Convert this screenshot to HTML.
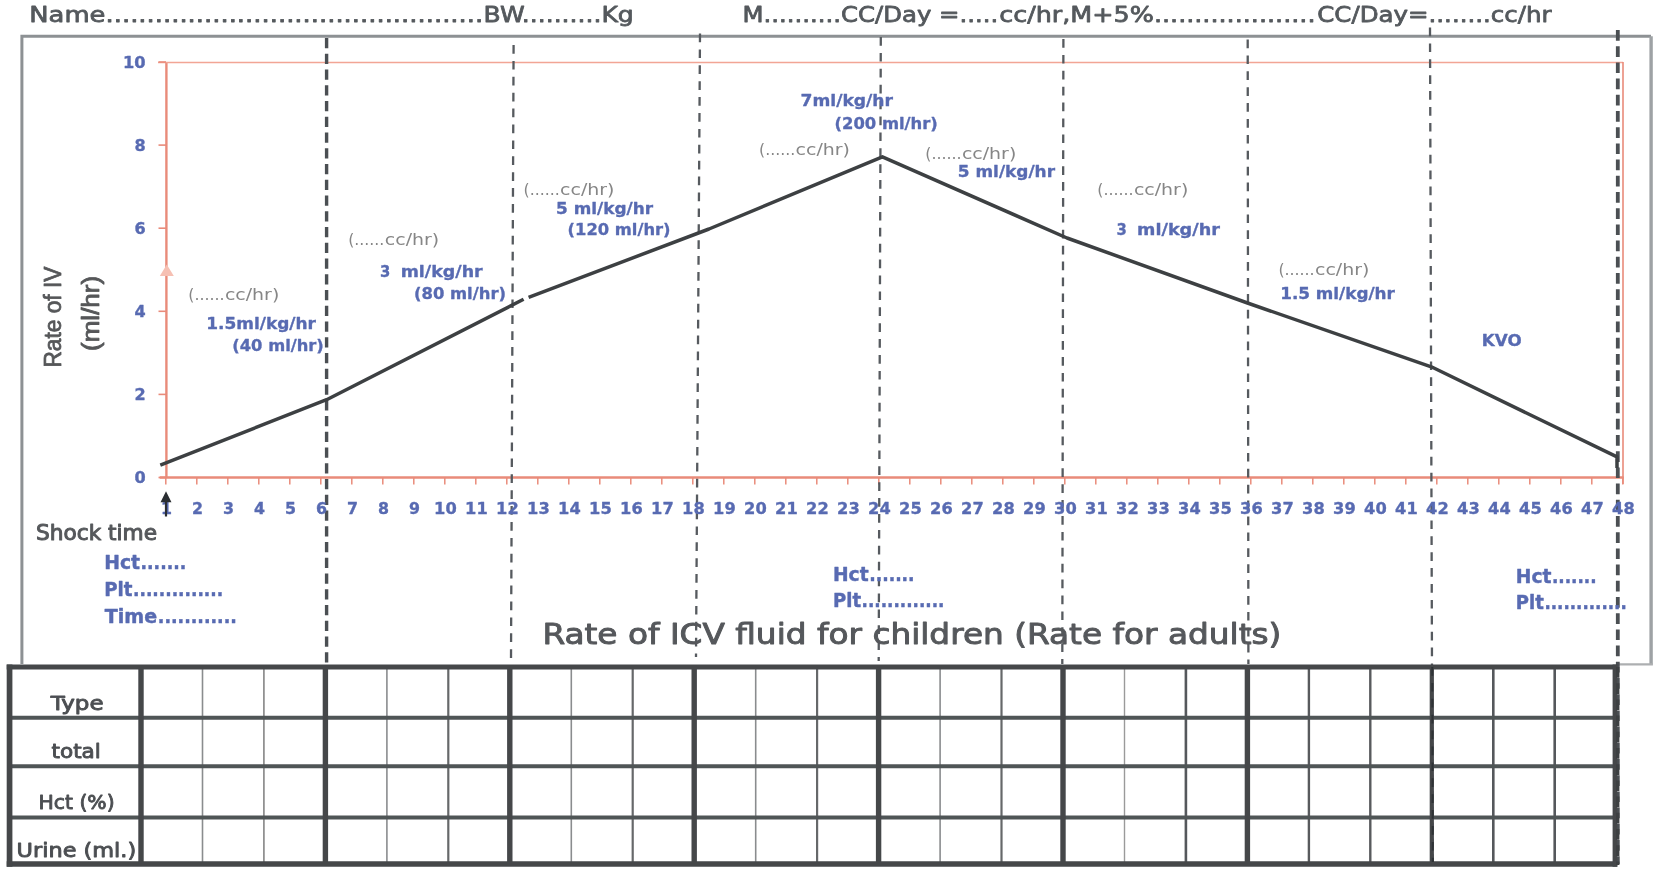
<!DOCTYPE html>
<html lang="en"><head><meta charset="utf-8"><title>Rate of ICV fluid</title>
<style>html,body{margin:0;padding:0;background:#fff;overflow:hidden}svg{display:block}</style></head><body>
<svg width="1656" height="870" viewBox="0 0 1656 870">
<rect width="1656" height="870" fill="#fff"/>
<defs><filter id="soft" x="0" y="0" width="100%" height="100%" filterUnits="objectBoundingBox"><feGaussianBlur stdDeviation="0.7"/></filter></defs>
<g filter="url(#soft)">
<rect width="1656" height="870" fill="#fff"/>
<path d="M21.9 664 V36.3 H1651" fill="none" stroke="#8d9194" stroke-width="3"/>
<path d="M1651.1 36.3 V664.5" fill="none" stroke="#9ea2a5" stroke-width="3.4"/>
<path d="M1652.9 664.4 H1618" fill="none" stroke="#adafb1" stroke-width="2.2"/>
<line x1="166.4" y1="62" x2="166.4" y2="478" stroke="#e98b7a" stroke-width="2.4"/>
<line x1="159.7" y1="477.6" x2="1623.6" y2="477.6" stroke="#e98b7a" stroke-width="2.5"/>
<line x1="158" y1="62.5" x2="1623" y2="62.5" stroke="#f2a595" stroke-width="1.5"/>
<line x1="1623" y1="62" x2="1623" y2="484" stroke="#e98b7a" stroke-width="1.6"/>
<line x1="158.5" y1="477.5" x2="166" y2="477.5" stroke="#e98b7a" stroke-width="1.6"/>
<line x1="158.5" y1="394.4" x2="166" y2="394.4" stroke="#e98b7a" stroke-width="1.6"/>
<line x1="158.5" y1="311.3" x2="166" y2="311.3" stroke="#e98b7a" stroke-width="1.6"/>
<line x1="158.5" y1="228.2" x2="166" y2="228.2" stroke="#e98b7a" stroke-width="1.6"/>
<line x1="158.5" y1="145.1" x2="166" y2="145.1" stroke="#e98b7a" stroke-width="1.6"/>
<line x1="158.5" y1="62.0" x2="166" y2="62.0" stroke="#e98b7a" stroke-width="1.6"/>
<line x1="165.8" y1="477" x2="165.8" y2="484.5" stroke="#e98b7a" stroke-width="1.5"/>
<line x1="196.8" y1="477" x2="196.8" y2="484.5" stroke="#e98b7a" stroke-width="1.5"/>
<line x1="227.8" y1="477" x2="227.8" y2="484.5" stroke="#e98b7a" stroke-width="1.5"/>
<line x1="258.8" y1="477" x2="258.8" y2="484.5" stroke="#e98b7a" stroke-width="1.5"/>
<line x1="289.8" y1="477" x2="289.8" y2="484.5" stroke="#e98b7a" stroke-width="1.5"/>
<line x1="320.8" y1="477" x2="320.8" y2="484.5" stroke="#e98b7a" stroke-width="1.5"/>
<line x1="351.8" y1="477" x2="351.8" y2="484.5" stroke="#e98b7a" stroke-width="1.5"/>
<line x1="382.8" y1="477" x2="382.8" y2="484.5" stroke="#e98b7a" stroke-width="1.5"/>
<line x1="413.8" y1="477" x2="413.8" y2="484.5" stroke="#e98b7a" stroke-width="1.5"/>
<line x1="444.8" y1="477" x2="444.8" y2="484.5" stroke="#e98b7a" stroke-width="1.5"/>
<line x1="475.8" y1="477" x2="475.8" y2="484.5" stroke="#e98b7a" stroke-width="1.5"/>
<line x1="506.8" y1="477" x2="506.8" y2="484.5" stroke="#e98b7a" stroke-width="1.5"/>
<line x1="537.8" y1="477" x2="537.8" y2="484.5" stroke="#e98b7a" stroke-width="1.5"/>
<line x1="568.8" y1="477" x2="568.8" y2="484.5" stroke="#e98b7a" stroke-width="1.5"/>
<line x1="599.8" y1="477" x2="599.8" y2="484.5" stroke="#e98b7a" stroke-width="1.5"/>
<line x1="630.8" y1="477" x2="630.8" y2="484.5" stroke="#e98b7a" stroke-width="1.5"/>
<line x1="661.8" y1="477" x2="661.8" y2="484.5" stroke="#e98b7a" stroke-width="1.5"/>
<line x1="692.8" y1="477" x2="692.8" y2="484.5" stroke="#e98b7a" stroke-width="1.5"/>
<line x1="723.8" y1="477" x2="723.8" y2="484.5" stroke="#e98b7a" stroke-width="1.5"/>
<line x1="754.8" y1="477" x2="754.8" y2="484.5" stroke="#e98b7a" stroke-width="1.5"/>
<line x1="785.8" y1="477" x2="785.8" y2="484.5" stroke="#e98b7a" stroke-width="1.5"/>
<line x1="816.8" y1="477" x2="816.8" y2="484.5" stroke="#e98b7a" stroke-width="1.5"/>
<line x1="847.8" y1="477" x2="847.8" y2="484.5" stroke="#e98b7a" stroke-width="1.5"/>
<line x1="878.8" y1="477" x2="878.8" y2="484.5" stroke="#e98b7a" stroke-width="1.5"/>
<line x1="909.8" y1="477" x2="909.8" y2="484.5" stroke="#e98b7a" stroke-width="1.5"/>
<line x1="940.8" y1="477" x2="940.8" y2="484.5" stroke="#e98b7a" stroke-width="1.5"/>
<line x1="971.8" y1="477" x2="971.8" y2="484.5" stroke="#e98b7a" stroke-width="1.5"/>
<line x1="1002.8" y1="477" x2="1002.8" y2="484.5" stroke="#e98b7a" stroke-width="1.5"/>
<line x1="1033.8" y1="477" x2="1033.8" y2="484.5" stroke="#e98b7a" stroke-width="1.5"/>
<line x1="1064.8" y1="477" x2="1064.8" y2="484.5" stroke="#e98b7a" stroke-width="1.5"/>
<line x1="1095.8" y1="477" x2="1095.8" y2="484.5" stroke="#e98b7a" stroke-width="1.5"/>
<line x1="1126.8" y1="477" x2="1126.8" y2="484.5" stroke="#e98b7a" stroke-width="1.5"/>
<line x1="1157.8" y1="477" x2="1157.8" y2="484.5" stroke="#e98b7a" stroke-width="1.5"/>
<line x1="1188.8" y1="477" x2="1188.8" y2="484.5" stroke="#e98b7a" stroke-width="1.5"/>
<line x1="1219.8" y1="477" x2="1219.8" y2="484.5" stroke="#e98b7a" stroke-width="1.5"/>
<line x1="1250.8" y1="477" x2="1250.8" y2="484.5" stroke="#e98b7a" stroke-width="1.5"/>
<line x1="1281.8" y1="477" x2="1281.8" y2="484.5" stroke="#e98b7a" stroke-width="1.5"/>
<line x1="1312.8" y1="477" x2="1312.8" y2="484.5" stroke="#e98b7a" stroke-width="1.5"/>
<line x1="1343.8" y1="477" x2="1343.8" y2="484.5" stroke="#e98b7a" stroke-width="1.5"/>
<line x1="1374.8" y1="477" x2="1374.8" y2="484.5" stroke="#e98b7a" stroke-width="1.5"/>
<line x1="1405.8" y1="477" x2="1405.8" y2="484.5" stroke="#e98b7a" stroke-width="1.5"/>
<line x1="1436.8" y1="477" x2="1436.8" y2="484.5" stroke="#e98b7a" stroke-width="1.5"/>
<line x1="1467.8" y1="477" x2="1467.8" y2="484.5" stroke="#e98b7a" stroke-width="1.5"/>
<line x1="1498.8" y1="477" x2="1498.8" y2="484.5" stroke="#e98b7a" stroke-width="1.5"/>
<line x1="1529.8" y1="477" x2="1529.8" y2="484.5" stroke="#e98b7a" stroke-width="1.5"/>
<line x1="1560.8" y1="477" x2="1560.8" y2="484.5" stroke="#e98b7a" stroke-width="1.5"/>
<line x1="1591.8" y1="477" x2="1591.8" y2="484.5" stroke="#e98b7a" stroke-width="1.5"/>
<line x1="1622.8" y1="477" x2="1622.8" y2="484.5" stroke="#e98b7a" stroke-width="1.5"/>
<path d="M166.8 264.5 L173.8 276 H159.8 Z" fill="#f6c0b3"/>
<line x1="326.6" y1="38" x2="326.6" y2="666" stroke="#4b4f53" stroke-width="3.4" stroke-dasharray="10.3 5.45"/>
<line x1="513.6" y1="45" x2="511" y2="661" stroke="#565a5e" stroke-width="2.3" stroke-dasharray="8.7 7.2"/>
<line x1="700" y1="33.5" x2="696" y2="657" stroke="#565a5e" stroke-width="2.3" stroke-dasharray="8.7 7.2"/>
<line x1="880.8" y1="37" x2="878.7" y2="661" stroke="#565a5e" stroke-width="2.3" stroke-dasharray="8.7 7.2"/>
<line x1="1063.4" y1="39" x2="1062.3" y2="664" stroke="#565a5e" stroke-width="2.3" stroke-dasharray="8.7 7.2"/>
<line x1="1247.7" y1="39.5" x2="1248.4" y2="664" stroke="#565a5e" stroke-width="2.3" stroke-dasharray="8.7 7.2"/>
<line x1="1430" y1="27.5" x2="1432.6" y2="862" stroke="#565a5e" stroke-width="2.3" stroke-dasharray="8.7 7.2"/>
<line x1="1617.8" y1="30" x2="1617.8" y2="864" stroke="#4b4f53" stroke-width="3.8" stroke-dasharray="10.7 5.5"/>
<polyline fill="none" stroke="#3c4043" stroke-width="3.5" stroke-linejoin="round" stroke-linecap="butt" points="160.3,465.2 326.6,399.7 523.6,299.3"/>
<polyline fill="none" stroke="#3c4043" stroke-width="3.5" stroke-linejoin="round" stroke-linecap="butt" points="528.6,297.4 709,229 882.4,156.8 1067,238 1247.5,303 1431.3,366.8 1617,456.9 1617,468"/>
<text x="29.3" y="22.3" font-family='"DejaVu Sans","Liberation Sans",sans-serif' font-size="22" font-weight="normal" fill="#54595d" text-anchor="start" xml:space="preserve" textLength="453.9" lengthAdjust="spacingAndGlyphs" stroke="#54595d" stroke-width="0.8" stroke-linejoin="round">Name..............................................</text>
<text x="483.6" y="22.3" font-family='"DejaVu Sans","Liberation Sans",sans-serif' font-size="22" font-weight="normal" fill="#54595d" text-anchor="start" xml:space="preserve" textLength="150.2" lengthAdjust="spacingAndGlyphs" stroke="#54595d" stroke-width="0.8" stroke-linejoin="round">BW..........Kg</text>
<text x="742.6" y="22.3" font-family='"DejaVu Sans","Liberation Sans",sans-serif' font-size="22" font-weight="normal" fill="#54595d" text-anchor="start" xml:space="preserve" textLength="255.6" lengthAdjust="spacingAndGlyphs" stroke="#54595d" stroke-width="0.8" stroke-linejoin="round">M..........CC/Day =.....</text>
<text x="999.2" y="22.3" font-family='"DejaVu Sans","Liberation Sans",sans-serif' font-size="22" font-weight="normal" fill="#54595d" text-anchor="start" xml:space="preserve" textLength="316.3" lengthAdjust="spacingAndGlyphs" stroke="#54595d" stroke-width="0.8" stroke-linejoin="round">cc/hr,M+5%....................</text>
<text x="1317.2" y="22.3" font-family='"DejaVu Sans","Liberation Sans",sans-serif' font-size="22" font-weight="normal" fill="#54595d" text-anchor="start" xml:space="preserve" textLength="234.4" lengthAdjust="spacingAndGlyphs" stroke="#54595d" stroke-width="0.8" stroke-linejoin="round">CC/Day=........cc/hr</text>
<text x="134.4" y="483.1" font-family='"DejaVu Sans","Liberation Sans",sans-serif' font-size="15.6" font-weight="bold" fill="#586bb2" text-anchor="start" xml:space="preserve" textLength="11.2" lengthAdjust="spacingAndGlyphs" stroke="#586bb2" stroke-width="0.35" stroke-linejoin="round">0</text>
<text x="134.4" y="400.0" font-family='"DejaVu Sans","Liberation Sans",sans-serif' font-size="15.6" font-weight="bold" fill="#586bb2" text-anchor="start" xml:space="preserve" textLength="11.2" lengthAdjust="spacingAndGlyphs" stroke="#586bb2" stroke-width="0.35" stroke-linejoin="round">2</text>
<text x="134.4" y="316.9" font-family='"DejaVu Sans","Liberation Sans",sans-serif' font-size="15.6" font-weight="bold" fill="#586bb2" text-anchor="start" xml:space="preserve" textLength="11.2" lengthAdjust="spacingAndGlyphs" stroke="#586bb2" stroke-width="0.35" stroke-linejoin="round">4</text>
<text x="134.4" y="233.8" font-family='"DejaVu Sans","Liberation Sans",sans-serif' font-size="15.6" font-weight="bold" fill="#586bb2" text-anchor="start" xml:space="preserve" textLength="11.2" lengthAdjust="spacingAndGlyphs" stroke="#586bb2" stroke-width="0.35" stroke-linejoin="round">6</text>
<text x="134.4" y="150.7" font-family='"DejaVu Sans","Liberation Sans",sans-serif' font-size="15.6" font-weight="bold" fill="#586bb2" text-anchor="start" xml:space="preserve" textLength="11.2" lengthAdjust="spacingAndGlyphs" stroke="#586bb2" stroke-width="0.35" stroke-linejoin="round">8</text>
<text x="123.0" y="67.6" font-family='"DejaVu Sans","Liberation Sans",sans-serif' font-size="15.6" font-weight="bold" fill="#586bb2" text-anchor="start" xml:space="preserve" textLength="22.6" lengthAdjust="spacingAndGlyphs" stroke="#586bb2" stroke-width="0.35" stroke-linejoin="round">10</text>
<text x="160.9" y="514.3" font-family='"DejaVu Sans","Liberation Sans",sans-serif' font-size="16.2" font-weight="bold" fill="#586bb2" text-anchor="start" xml:space="preserve" textLength="11.0" lengthAdjust="spacingAndGlyphs" stroke="#586bb2" stroke-width="0.35" stroke-linejoin="round">1</text>
<text x="191.9" y="514.3" font-family='"DejaVu Sans","Liberation Sans",sans-serif' font-size="16.2" font-weight="bold" fill="#586bb2" text-anchor="start" xml:space="preserve" textLength="11.0" lengthAdjust="spacingAndGlyphs" stroke="#586bb2" stroke-width="0.35" stroke-linejoin="round">2</text>
<text x="222.9" y="514.3" font-family='"DejaVu Sans","Liberation Sans",sans-serif' font-size="16.2" font-weight="bold" fill="#586bb2" text-anchor="start" xml:space="preserve" textLength="11.0" lengthAdjust="spacingAndGlyphs" stroke="#586bb2" stroke-width="0.35" stroke-linejoin="round">3</text>
<text x="253.9" y="514.3" font-family='"DejaVu Sans","Liberation Sans",sans-serif' font-size="16.2" font-weight="bold" fill="#586bb2" text-anchor="start" xml:space="preserve" textLength="11.0" lengthAdjust="spacingAndGlyphs" stroke="#586bb2" stroke-width="0.35" stroke-linejoin="round">4</text>
<text x="284.9" y="514.3" font-family='"DejaVu Sans","Liberation Sans",sans-serif' font-size="16.2" font-weight="bold" fill="#586bb2" text-anchor="start" xml:space="preserve" textLength="11.0" lengthAdjust="spacingAndGlyphs" stroke="#586bb2" stroke-width="0.35" stroke-linejoin="round">5</text>
<text x="315.9" y="514.3" font-family='"DejaVu Sans","Liberation Sans",sans-serif' font-size="16.2" font-weight="bold" fill="#586bb2" text-anchor="start" xml:space="preserve" textLength="11.0" lengthAdjust="spacingAndGlyphs" stroke="#586bb2" stroke-width="0.35" stroke-linejoin="round">6</text>
<text x="346.9" y="514.3" font-family='"DejaVu Sans","Liberation Sans",sans-serif' font-size="16.2" font-weight="bold" fill="#586bb2" text-anchor="start" xml:space="preserve" textLength="11.0" lengthAdjust="spacingAndGlyphs" stroke="#586bb2" stroke-width="0.35" stroke-linejoin="round">7</text>
<text x="377.9" y="514.3" font-family='"DejaVu Sans","Liberation Sans",sans-serif' font-size="16.2" font-weight="bold" fill="#586bb2" text-anchor="start" xml:space="preserve" textLength="11.0" lengthAdjust="spacingAndGlyphs" stroke="#586bb2" stroke-width="0.35" stroke-linejoin="round">8</text>
<text x="408.9" y="514.3" font-family='"DejaVu Sans","Liberation Sans",sans-serif' font-size="16.2" font-weight="bold" fill="#586bb2" text-anchor="start" xml:space="preserve" textLength="11.0" lengthAdjust="spacingAndGlyphs" stroke="#586bb2" stroke-width="0.35" stroke-linejoin="round">9</text>
<text x="434.1" y="514.3" font-family='"DejaVu Sans","Liberation Sans",sans-serif' font-size="16.2" font-weight="bold" fill="#586bb2" text-anchor="start" xml:space="preserve" textLength="22.6" lengthAdjust="spacingAndGlyphs" stroke="#586bb2" stroke-width="0.35" stroke-linejoin="round">10</text>
<text x="465.1" y="514.3" font-family='"DejaVu Sans","Liberation Sans",sans-serif' font-size="16.2" font-weight="bold" fill="#586bb2" text-anchor="start" xml:space="preserve" textLength="22.6" lengthAdjust="spacingAndGlyphs" stroke="#586bb2" stroke-width="0.35" stroke-linejoin="round">11</text>
<text x="496.1" y="514.3" font-family='"DejaVu Sans","Liberation Sans",sans-serif' font-size="16.2" font-weight="bold" fill="#586bb2" text-anchor="start" xml:space="preserve" textLength="22.6" lengthAdjust="spacingAndGlyphs" stroke="#586bb2" stroke-width="0.35" stroke-linejoin="round">12</text>
<text x="527.1" y="514.3" font-family='"DejaVu Sans","Liberation Sans",sans-serif' font-size="16.2" font-weight="bold" fill="#586bb2" text-anchor="start" xml:space="preserve" textLength="22.6" lengthAdjust="spacingAndGlyphs" stroke="#586bb2" stroke-width="0.35" stroke-linejoin="round">13</text>
<text x="558.1" y="514.3" font-family='"DejaVu Sans","Liberation Sans",sans-serif' font-size="16.2" font-weight="bold" fill="#586bb2" text-anchor="start" xml:space="preserve" textLength="22.6" lengthAdjust="spacingAndGlyphs" stroke="#586bb2" stroke-width="0.35" stroke-linejoin="round">14</text>
<text x="589.1" y="514.3" font-family='"DejaVu Sans","Liberation Sans",sans-serif' font-size="16.2" font-weight="bold" fill="#586bb2" text-anchor="start" xml:space="preserve" textLength="22.6" lengthAdjust="spacingAndGlyphs" stroke="#586bb2" stroke-width="0.35" stroke-linejoin="round">15</text>
<text x="620.1" y="514.3" font-family='"DejaVu Sans","Liberation Sans",sans-serif' font-size="16.2" font-weight="bold" fill="#586bb2" text-anchor="start" xml:space="preserve" textLength="22.6" lengthAdjust="spacingAndGlyphs" stroke="#586bb2" stroke-width="0.35" stroke-linejoin="round">16</text>
<text x="651.1" y="514.3" font-family='"DejaVu Sans","Liberation Sans",sans-serif' font-size="16.2" font-weight="bold" fill="#586bb2" text-anchor="start" xml:space="preserve" textLength="22.6" lengthAdjust="spacingAndGlyphs" stroke="#586bb2" stroke-width="0.35" stroke-linejoin="round">17</text>
<text x="682.1" y="514.3" font-family='"DejaVu Sans","Liberation Sans",sans-serif' font-size="16.2" font-weight="bold" fill="#586bb2" text-anchor="start" xml:space="preserve" textLength="22.6" lengthAdjust="spacingAndGlyphs" stroke="#586bb2" stroke-width="0.35" stroke-linejoin="round">18</text>
<text x="713.1" y="514.3" font-family='"DejaVu Sans","Liberation Sans",sans-serif' font-size="16.2" font-weight="bold" fill="#586bb2" text-anchor="start" xml:space="preserve" textLength="22.6" lengthAdjust="spacingAndGlyphs" stroke="#586bb2" stroke-width="0.35" stroke-linejoin="round">19</text>
<text x="744.1" y="514.3" font-family='"DejaVu Sans","Liberation Sans",sans-serif' font-size="16.2" font-weight="bold" fill="#586bb2" text-anchor="start" xml:space="preserve" textLength="22.6" lengthAdjust="spacingAndGlyphs" stroke="#586bb2" stroke-width="0.35" stroke-linejoin="round">20</text>
<text x="775.1" y="514.3" font-family='"DejaVu Sans","Liberation Sans",sans-serif' font-size="16.2" font-weight="bold" fill="#586bb2" text-anchor="start" xml:space="preserve" textLength="22.6" lengthAdjust="spacingAndGlyphs" stroke="#586bb2" stroke-width="0.35" stroke-linejoin="round">21</text>
<text x="806.1" y="514.3" font-family='"DejaVu Sans","Liberation Sans",sans-serif' font-size="16.2" font-weight="bold" fill="#586bb2" text-anchor="start" xml:space="preserve" textLength="22.6" lengthAdjust="spacingAndGlyphs" stroke="#586bb2" stroke-width="0.35" stroke-linejoin="round">22</text>
<text x="837.1" y="514.3" font-family='"DejaVu Sans","Liberation Sans",sans-serif' font-size="16.2" font-weight="bold" fill="#586bb2" text-anchor="start" xml:space="preserve" textLength="22.6" lengthAdjust="spacingAndGlyphs" stroke="#586bb2" stroke-width="0.35" stroke-linejoin="round">23</text>
<text x="868.1" y="514.3" font-family='"DejaVu Sans","Liberation Sans",sans-serif' font-size="16.2" font-weight="bold" fill="#586bb2" text-anchor="start" xml:space="preserve" textLength="22.6" lengthAdjust="spacingAndGlyphs" stroke="#586bb2" stroke-width="0.35" stroke-linejoin="round">24</text>
<text x="899.1" y="514.3" font-family='"DejaVu Sans","Liberation Sans",sans-serif' font-size="16.2" font-weight="bold" fill="#586bb2" text-anchor="start" xml:space="preserve" textLength="22.6" lengthAdjust="spacingAndGlyphs" stroke="#586bb2" stroke-width="0.35" stroke-linejoin="round">25</text>
<text x="930.1" y="514.3" font-family='"DejaVu Sans","Liberation Sans",sans-serif' font-size="16.2" font-weight="bold" fill="#586bb2" text-anchor="start" xml:space="preserve" textLength="22.6" lengthAdjust="spacingAndGlyphs" stroke="#586bb2" stroke-width="0.35" stroke-linejoin="round">26</text>
<text x="961.1" y="514.3" font-family='"DejaVu Sans","Liberation Sans",sans-serif' font-size="16.2" font-weight="bold" fill="#586bb2" text-anchor="start" xml:space="preserve" textLength="22.6" lengthAdjust="spacingAndGlyphs" stroke="#586bb2" stroke-width="0.35" stroke-linejoin="round">27</text>
<text x="992.1" y="514.3" font-family='"DejaVu Sans","Liberation Sans",sans-serif' font-size="16.2" font-weight="bold" fill="#586bb2" text-anchor="start" xml:space="preserve" textLength="22.6" lengthAdjust="spacingAndGlyphs" stroke="#586bb2" stroke-width="0.35" stroke-linejoin="round">28</text>
<text x="1023.1" y="514.3" font-family='"DejaVu Sans","Liberation Sans",sans-serif' font-size="16.2" font-weight="bold" fill="#586bb2" text-anchor="start" xml:space="preserve" textLength="22.6" lengthAdjust="spacingAndGlyphs" stroke="#586bb2" stroke-width="0.35" stroke-linejoin="round">29</text>
<text x="1054.1" y="514.3" font-family='"DejaVu Sans","Liberation Sans",sans-serif' font-size="16.2" font-weight="bold" fill="#586bb2" text-anchor="start" xml:space="preserve" textLength="22.6" lengthAdjust="spacingAndGlyphs" stroke="#586bb2" stroke-width="0.35" stroke-linejoin="round">30</text>
<text x="1085.1" y="514.3" font-family='"DejaVu Sans","Liberation Sans",sans-serif' font-size="16.2" font-weight="bold" fill="#586bb2" text-anchor="start" xml:space="preserve" textLength="22.6" lengthAdjust="spacingAndGlyphs" stroke="#586bb2" stroke-width="0.35" stroke-linejoin="round">31</text>
<text x="1116.1" y="514.3" font-family='"DejaVu Sans","Liberation Sans",sans-serif' font-size="16.2" font-weight="bold" fill="#586bb2" text-anchor="start" xml:space="preserve" textLength="22.6" lengthAdjust="spacingAndGlyphs" stroke="#586bb2" stroke-width="0.35" stroke-linejoin="round">32</text>
<text x="1147.1" y="514.3" font-family='"DejaVu Sans","Liberation Sans",sans-serif' font-size="16.2" font-weight="bold" fill="#586bb2" text-anchor="start" xml:space="preserve" textLength="22.6" lengthAdjust="spacingAndGlyphs" stroke="#586bb2" stroke-width="0.35" stroke-linejoin="round">33</text>
<text x="1178.1" y="514.3" font-family='"DejaVu Sans","Liberation Sans",sans-serif' font-size="16.2" font-weight="bold" fill="#586bb2" text-anchor="start" xml:space="preserve" textLength="22.6" lengthAdjust="spacingAndGlyphs" stroke="#586bb2" stroke-width="0.35" stroke-linejoin="round">34</text>
<text x="1209.1" y="514.3" font-family='"DejaVu Sans","Liberation Sans",sans-serif' font-size="16.2" font-weight="bold" fill="#586bb2" text-anchor="start" xml:space="preserve" textLength="22.6" lengthAdjust="spacingAndGlyphs" stroke="#586bb2" stroke-width="0.35" stroke-linejoin="round">35</text>
<text x="1240.1" y="514.3" font-family='"DejaVu Sans","Liberation Sans",sans-serif' font-size="16.2" font-weight="bold" fill="#586bb2" text-anchor="start" xml:space="preserve" textLength="22.6" lengthAdjust="spacingAndGlyphs" stroke="#586bb2" stroke-width="0.35" stroke-linejoin="round">36</text>
<text x="1271.1" y="514.3" font-family='"DejaVu Sans","Liberation Sans",sans-serif' font-size="16.2" font-weight="bold" fill="#586bb2" text-anchor="start" xml:space="preserve" textLength="22.6" lengthAdjust="spacingAndGlyphs" stroke="#586bb2" stroke-width="0.35" stroke-linejoin="round">37</text>
<text x="1302.1" y="514.3" font-family='"DejaVu Sans","Liberation Sans",sans-serif' font-size="16.2" font-weight="bold" fill="#586bb2" text-anchor="start" xml:space="preserve" textLength="22.6" lengthAdjust="spacingAndGlyphs" stroke="#586bb2" stroke-width="0.35" stroke-linejoin="round">38</text>
<text x="1333.1" y="514.3" font-family='"DejaVu Sans","Liberation Sans",sans-serif' font-size="16.2" font-weight="bold" fill="#586bb2" text-anchor="start" xml:space="preserve" textLength="22.6" lengthAdjust="spacingAndGlyphs" stroke="#586bb2" stroke-width="0.35" stroke-linejoin="round">39</text>
<text x="1364.1" y="514.3" font-family='"DejaVu Sans","Liberation Sans",sans-serif' font-size="16.2" font-weight="bold" fill="#586bb2" text-anchor="start" xml:space="preserve" textLength="22.6" lengthAdjust="spacingAndGlyphs" stroke="#586bb2" stroke-width="0.35" stroke-linejoin="round">40</text>
<text x="1395.1" y="514.3" font-family='"DejaVu Sans","Liberation Sans",sans-serif' font-size="16.2" font-weight="bold" fill="#586bb2" text-anchor="start" xml:space="preserve" textLength="22.6" lengthAdjust="spacingAndGlyphs" stroke="#586bb2" stroke-width="0.35" stroke-linejoin="round">41</text>
<text x="1426.1" y="514.3" font-family='"DejaVu Sans","Liberation Sans",sans-serif' font-size="16.2" font-weight="bold" fill="#586bb2" text-anchor="start" xml:space="preserve" textLength="22.6" lengthAdjust="spacingAndGlyphs" stroke="#586bb2" stroke-width="0.35" stroke-linejoin="round">42</text>
<text x="1457.1" y="514.3" font-family='"DejaVu Sans","Liberation Sans",sans-serif' font-size="16.2" font-weight="bold" fill="#586bb2" text-anchor="start" xml:space="preserve" textLength="22.6" lengthAdjust="spacingAndGlyphs" stroke="#586bb2" stroke-width="0.35" stroke-linejoin="round">43</text>
<text x="1488.1" y="514.3" font-family='"DejaVu Sans","Liberation Sans",sans-serif' font-size="16.2" font-weight="bold" fill="#586bb2" text-anchor="start" xml:space="preserve" textLength="22.6" lengthAdjust="spacingAndGlyphs" stroke="#586bb2" stroke-width="0.35" stroke-linejoin="round">44</text>
<text x="1519.1" y="514.3" font-family='"DejaVu Sans","Liberation Sans",sans-serif' font-size="16.2" font-weight="bold" fill="#586bb2" text-anchor="start" xml:space="preserve" textLength="22.6" lengthAdjust="spacingAndGlyphs" stroke="#586bb2" stroke-width="0.35" stroke-linejoin="round">45</text>
<text x="1550.1" y="514.3" font-family='"DejaVu Sans","Liberation Sans",sans-serif' font-size="16.2" font-weight="bold" fill="#586bb2" text-anchor="start" xml:space="preserve" textLength="22.6" lengthAdjust="spacingAndGlyphs" stroke="#586bb2" stroke-width="0.35" stroke-linejoin="round">46</text>
<text x="1581.1" y="514.3" font-family='"DejaVu Sans","Liberation Sans",sans-serif' font-size="16.2" font-weight="bold" fill="#586bb2" text-anchor="start" xml:space="preserve" textLength="22.6" lengthAdjust="spacingAndGlyphs" stroke="#586bb2" stroke-width="0.35" stroke-linejoin="round">47</text>
<text x="1612.1" y="514.3" font-family='"DejaVu Sans","Liberation Sans",sans-serif' font-size="16.2" font-weight="bold" fill="#586bb2" text-anchor="start" xml:space="preserve" textLength="22.6" lengthAdjust="spacingAndGlyphs" stroke="#586bb2" stroke-width="0.35" stroke-linejoin="round">48</text>
<g transform="translate(61.0 367.6) rotate(-90)">
<text x="0" y="0" font-family='"Liberation Sans","DejaVu Sans",sans-serif' font-size="24.6" font-weight="normal" fill="#555759" text-anchor="start" xml:space="preserve" textLength="101" lengthAdjust="spacingAndGlyphs" stroke="#555759" stroke-width="0.8" stroke-linejoin="round">Rate of IV</text>
</g>
<g transform="translate(99.0 351) rotate(-90)">
<text x="0" y="0" font-family='"Liberation Sans","DejaVu Sans",sans-serif' font-size="24.6" font-weight="normal" fill="#555759" text-anchor="start" xml:space="preserve" textLength="75.2" lengthAdjust="spacingAndGlyphs" stroke="#555759" stroke-width="0.8" stroke-linejoin="round">(ml/hr)</text>
</g>
<text x="188.3" y="300" font-family='"DejaVu Sans","Liberation Sans",sans-serif' font-size="16.2" font-weight="normal" fill="#868686" text-anchor="start" xml:space="preserve" textLength="36.2" lengthAdjust="spacingAndGlyphs">(......</text>
<text x="224.9" y="300" font-family='"DejaVu Sans","Liberation Sans",sans-serif' font-size="16.2" font-weight="normal" fill="#868686" text-anchor="start" xml:space="preserve" textLength="54.4" lengthAdjust="spacingAndGlyphs">cc/hr)</text>
<text x="348.2" y="245" font-family='"DejaVu Sans","Liberation Sans",sans-serif' font-size="16.2" font-weight="normal" fill="#868686" text-anchor="start" xml:space="preserve" textLength="36.2" lengthAdjust="spacingAndGlyphs">(......</text>
<text x="384.8" y="245" font-family='"DejaVu Sans","Liberation Sans",sans-serif' font-size="16.2" font-weight="normal" fill="#868686" text-anchor="start" xml:space="preserve" textLength="54.4" lengthAdjust="spacingAndGlyphs">cc/hr)</text>
<text x="523.5" y="194.8" font-family='"DejaVu Sans","Liberation Sans",sans-serif' font-size="16.2" font-weight="normal" fill="#868686" text-anchor="start" xml:space="preserve" textLength="36.2" lengthAdjust="spacingAndGlyphs">(......</text>
<text x="560.1" y="194.8" font-family='"DejaVu Sans","Liberation Sans",sans-serif' font-size="16.2" font-weight="normal" fill="#868686" text-anchor="start" xml:space="preserve" textLength="54.4" lengthAdjust="spacingAndGlyphs">cc/hr)</text>
<text x="759.0" y="155.3" font-family='"DejaVu Sans","Liberation Sans",sans-serif' font-size="16.2" font-weight="normal" fill="#868686" text-anchor="start" xml:space="preserve" textLength="36.2" lengthAdjust="spacingAndGlyphs">(......</text>
<text x="795.6" y="155.3" font-family='"DejaVu Sans","Liberation Sans",sans-serif' font-size="16.2" font-weight="normal" fill="#868686" text-anchor="start" xml:space="preserve" textLength="54.4" lengthAdjust="spacingAndGlyphs">cc/hr)</text>
<text x="925.3" y="158.8" font-family='"DejaVu Sans","Liberation Sans",sans-serif' font-size="16.2" font-weight="normal" fill="#868686" text-anchor="start" xml:space="preserve" textLength="36.2" lengthAdjust="spacingAndGlyphs">(......</text>
<text x="961.9" y="158.8" font-family='"DejaVu Sans","Liberation Sans",sans-serif' font-size="16.2" font-weight="normal" fill="#868686" text-anchor="start" xml:space="preserve" textLength="54.4" lengthAdjust="spacingAndGlyphs">cc/hr)</text>
<text x="1097.3" y="195.2" font-family='"DejaVu Sans","Liberation Sans",sans-serif' font-size="16.2" font-weight="normal" fill="#868686" text-anchor="start" xml:space="preserve" textLength="36.2" lengthAdjust="spacingAndGlyphs">(......</text>
<text x="1133.9" y="195.2" font-family='"DejaVu Sans","Liberation Sans",sans-serif' font-size="16.2" font-weight="normal" fill="#868686" text-anchor="start" xml:space="preserve" textLength="54.4" lengthAdjust="spacingAndGlyphs">cc/hr)</text>
<text x="1278.4" y="274.8" font-family='"DejaVu Sans","Liberation Sans",sans-serif' font-size="16.2" font-weight="normal" fill="#868686" text-anchor="start" xml:space="preserve" textLength="36.2" lengthAdjust="spacingAndGlyphs">(......</text>
<text x="1315.0" y="274.8" font-family='"DejaVu Sans","Liberation Sans",sans-serif' font-size="16.2" font-weight="normal" fill="#868686" text-anchor="start" xml:space="preserve" textLength="54.4" lengthAdjust="spacingAndGlyphs">cc/hr)</text>
<text x="206.2" y="329" font-family='"DejaVu Sans","Liberation Sans",sans-serif' font-size="16.5" font-weight="bold" fill="#586bb2" text-anchor="start" xml:space="preserve" textLength="109.8" lengthAdjust="spacingAndGlyphs" stroke="#586bb2" stroke-width="0.35" stroke-linejoin="round">1.5ml/kg/hr</text>
<text x="232.3" y="350.8" font-family='"DejaVu Sans","Liberation Sans",sans-serif' font-size="16.5" font-weight="bold" fill="#586bb2" text-anchor="start" xml:space="preserve" textLength="91.5" lengthAdjust="spacingAndGlyphs" stroke="#586bb2" stroke-width="0.35" stroke-linejoin="round">(40 ml/hr)</text>
<text x="380" y="277" font-family='"DejaVu Sans","Liberation Sans",sans-serif' font-size="16.5" font-weight="bold" fill="#586bb2" text-anchor="start" xml:space="preserve" textLength="10.3" lengthAdjust="spacingAndGlyphs" stroke="#586bb2" stroke-width="0.35" stroke-linejoin="round">3</text>
<text x="400.7" y="277" font-family='"DejaVu Sans","Liberation Sans",sans-serif' font-size="16.5" font-weight="bold" fill="#586bb2" text-anchor="start" xml:space="preserve" textLength="82" lengthAdjust="spacingAndGlyphs" stroke="#586bb2" stroke-width="0.35" stroke-linejoin="round">ml/kg/hr</text>
<text x="414" y="299" font-family='"DejaVu Sans","Liberation Sans",sans-serif' font-size="16.5" font-weight="bold" fill="#586bb2" text-anchor="start" xml:space="preserve" textLength="92" lengthAdjust="spacingAndGlyphs" stroke="#586bb2" stroke-width="0.35" stroke-linejoin="round">(80 ml/hr)</text>
<text x="556" y="214" font-family='"DejaVu Sans","Liberation Sans",sans-serif' font-size="16.5" font-weight="bold" fill="#586bb2" text-anchor="start" xml:space="preserve" textLength="97" lengthAdjust="spacingAndGlyphs" stroke="#586bb2" stroke-width="0.35" stroke-linejoin="round">5 ml/kg/hr</text>
<text x="567.6" y="235" font-family='"DejaVu Sans","Liberation Sans",sans-serif' font-size="16.5" font-weight="bold" fill="#586bb2" text-anchor="start" xml:space="preserve" textLength="103" lengthAdjust="spacingAndGlyphs" stroke="#586bb2" stroke-width="0.35" stroke-linejoin="round">(120 ml/hr)</text>
<text x="800.5" y="105.5" font-family='"DejaVu Sans","Liberation Sans",sans-serif' font-size="16.5" font-weight="bold" fill="#586bb2" text-anchor="start" xml:space="preserve" textLength="92.5" lengthAdjust="spacingAndGlyphs" stroke="#586bb2" stroke-width="0.35" stroke-linejoin="round">7ml/kg/hr</text>
<text x="834.5" y="129" font-family='"DejaVu Sans","Liberation Sans",sans-serif' font-size="16.5" font-weight="bold" fill="#586bb2" text-anchor="start" xml:space="preserve" textLength="103.3" lengthAdjust="spacingAndGlyphs" stroke="#586bb2" stroke-width="0.35" stroke-linejoin="round">(200 ml/hr)</text>
<text x="957.8" y="177.3" font-family='"DejaVu Sans","Liberation Sans",sans-serif' font-size="16.5" font-weight="bold" fill="#586bb2" text-anchor="start" xml:space="preserve" textLength="97.2" lengthAdjust="spacingAndGlyphs" stroke="#586bb2" stroke-width="0.35" stroke-linejoin="round">5 ml/kg/hr</text>
<text x="1116.4" y="235.4" font-family='"DejaVu Sans","Liberation Sans",sans-serif' font-size="16.5" font-weight="bold" fill="#586bb2" text-anchor="start" xml:space="preserve" textLength="10.3" lengthAdjust="spacingAndGlyphs" stroke="#586bb2" stroke-width="0.35" stroke-linejoin="round">3</text>
<text x="1137.1" y="235.4" font-family='"DejaVu Sans","Liberation Sans",sans-serif' font-size="16.5" font-weight="bold" fill="#586bb2" text-anchor="start" xml:space="preserve" textLength="82.8" lengthAdjust="spacingAndGlyphs" stroke="#586bb2" stroke-width="0.35" stroke-linejoin="round">ml/kg/hr</text>
<text x="1280.2" y="299" font-family='"DejaVu Sans","Liberation Sans",sans-serif' font-size="16.5" font-weight="bold" fill="#586bb2" text-anchor="start" xml:space="preserve" textLength="114.7" lengthAdjust="spacingAndGlyphs" stroke="#586bb2" stroke-width="0.35" stroke-linejoin="round">1.5 ml/kg/hr</text>
<text x="1481.8" y="346" font-family='"DejaVu Sans","Liberation Sans",sans-serif' font-size="16" font-weight="bold" fill="#586bb2" text-anchor="start" xml:space="preserve" textLength="39.8" lengthAdjust="spacingAndGlyphs" stroke="#586bb2" stroke-width="0.35" stroke-linejoin="round">KVO</text>
<text x="104.2" y="569" font-family='"DejaVu Sans","Liberation Sans",sans-serif' font-size="20" font-weight="bold" fill="#586bb2" text-anchor="start" xml:space="preserve" textLength="35.8" lengthAdjust="spacingAndGlyphs" stroke="#586bb2" stroke-width="0.45" stroke-linejoin="round">Hct</text>
<text x="140.6" y="569" font-family='"DejaVu Sans","Liberation Sans",sans-serif' font-size="20" font-weight="bold" fill="#586bb2" text-anchor="start" xml:space="preserve" textLength="45.6" lengthAdjust="spacingAndGlyphs" stroke="#586bb2" stroke-width="0.45" stroke-linejoin="round">.......</text>
<text x="104.2" y="596" font-family='"DejaVu Sans","Liberation Sans",sans-serif' font-size="20" font-weight="bold" fill="#586bb2" text-anchor="start" xml:space="preserve" textLength="28.2" lengthAdjust="spacingAndGlyphs" stroke="#586bb2" stroke-width="0.45" stroke-linejoin="round">Plt</text>
<text x="133.0" y="596" font-family='"DejaVu Sans","Liberation Sans",sans-serif' font-size="20" font-weight="bold" fill="#586bb2" text-anchor="start" xml:space="preserve" textLength="90.2" lengthAdjust="spacingAndGlyphs" stroke="#586bb2" stroke-width="0.45" stroke-linejoin="round">..............</text>
<text x="104.8" y="622.8" font-family='"DejaVu Sans","Liberation Sans",sans-serif' font-size="20" font-weight="bold" fill="#586bb2" text-anchor="start" xml:space="preserve" textLength="52.4" lengthAdjust="spacingAndGlyphs" stroke="#586bb2" stroke-width="0.45" stroke-linejoin="round">Time</text>
<text x="157.8" y="622.8" font-family='"DejaVu Sans","Liberation Sans",sans-serif' font-size="20" font-weight="bold" fill="#586bb2" text-anchor="start" xml:space="preserve" textLength="79.0" lengthAdjust="spacingAndGlyphs" stroke="#586bb2" stroke-width="0.45" stroke-linejoin="round">............</text>
<text x="833" y="580.7" font-family='"DejaVu Sans","Liberation Sans",sans-serif' font-size="20" font-weight="bold" fill="#586bb2" text-anchor="start" xml:space="preserve" textLength="35.6" lengthAdjust="spacingAndGlyphs" stroke="#586bb2" stroke-width="0.45" stroke-linejoin="round">Hct</text>
<text x="869.2" y="580.7" font-family='"DejaVu Sans","Liberation Sans",sans-serif' font-size="20" font-weight="bold" fill="#586bb2" text-anchor="start" xml:space="preserve" textLength="45.4" lengthAdjust="spacingAndGlyphs" stroke="#586bb2" stroke-width="0.45" stroke-linejoin="round">.......</text>
<text x="833" y="606.9" font-family='"DejaVu Sans","Liberation Sans",sans-serif' font-size="20" font-weight="bold" fill="#586bb2" text-anchor="start" xml:space="preserve" textLength="28" lengthAdjust="spacingAndGlyphs" stroke="#586bb2" stroke-width="0.45" stroke-linejoin="round">Plt</text>
<text x="861.6" y="606.9" font-family='"DejaVu Sans","Liberation Sans",sans-serif' font-size="20" font-weight="bold" fill="#586bb2" text-anchor="start" xml:space="preserve" textLength="82.8" lengthAdjust="spacingAndGlyphs" stroke="#586bb2" stroke-width="0.45" stroke-linejoin="round">.............</text>
<text x="1515.8" y="583.2" font-family='"DejaVu Sans","Liberation Sans",sans-serif' font-size="20" font-weight="bold" fill="#586bb2" text-anchor="start" xml:space="preserve" textLength="35.6" lengthAdjust="spacingAndGlyphs" stroke="#586bb2" stroke-width="0.45" stroke-linejoin="round">Hct</text>
<text x="1552.0" y="583.2" font-family='"DejaVu Sans","Liberation Sans",sans-serif' font-size="20" font-weight="bold" fill="#586bb2" text-anchor="start" xml:space="preserve" textLength="44.6" lengthAdjust="spacingAndGlyphs" stroke="#586bb2" stroke-width="0.45" stroke-linejoin="round">.......</text>
<text x="1515.8" y="608.5" font-family='"DejaVu Sans","Liberation Sans",sans-serif' font-size="20" font-weight="bold" fill="#586bb2" text-anchor="start" xml:space="preserve" textLength="28" lengthAdjust="spacingAndGlyphs" stroke="#586bb2" stroke-width="0.45" stroke-linejoin="round">Plt</text>
<text x="1544.4" y="608.5" font-family='"DejaVu Sans","Liberation Sans",sans-serif' font-size="20" font-weight="bold" fill="#586bb2" text-anchor="start" xml:space="preserve" textLength="82.4" lengthAdjust="spacingAndGlyphs" stroke="#586bb2" stroke-width="0.45" stroke-linejoin="round">.............</text>
<text x="36" y="540" font-family='"DejaVu Sans","Liberation Sans",sans-serif' font-size="21" font-weight="normal" fill="#55585b" text-anchor="start" xml:space="preserve" textLength="121" lengthAdjust="spacingAndGlyphs" stroke="#55585b" stroke-width="1.0" stroke-linejoin="round">Shock time</text>
<path d="M166 491.3 L171.5 502.2 H167.1 V516.6 H164.9 V502.2 H160.5 Z" fill="#2c2f33"/>
<text x="542.4" y="643.6" font-family='"DejaVu Sans","Liberation Sans",sans-serif' font-size="28" font-weight="normal" fill="#55585b" text-anchor="start" xml:space="preserve" textLength="739" lengthAdjust="spacingAndGlyphs" stroke="#55585b" stroke-width="0.9" stroke-linejoin="round">Rate of ICV fluid for children (Rate for adults)</text>
<line x1="202.5" y1="667" x2="202.5" y2="864" stroke="#8a8c8e" stroke-width="1.6"/>
<line x1="263.9" y1="667" x2="263.9" y2="864" stroke="#858585" stroke-width="1.6"/>
<line x1="386.9" y1="667" x2="386.9" y2="864" stroke="#8a8c8e" stroke-width="1.6"/>
<line x1="448.3" y1="667" x2="448.3" y2="864" stroke="#66686a" stroke-width="2.2"/>
<line x1="571.3" y1="667" x2="571.3" y2="864" stroke="#8a8c8e" stroke-width="1.6"/>
<line x1="632.7" y1="667" x2="632.7" y2="864" stroke="#66686a" stroke-width="2.2"/>
<line x1="755.7" y1="667" x2="755.7" y2="864" stroke="#8a8c8e" stroke-width="1.6"/>
<line x1="817.1" y1="667" x2="817.1" y2="864" stroke="#66686a" stroke-width="2.2"/>
<line x1="940.1" y1="667" x2="940.1" y2="864" stroke="#8a8c8e" stroke-width="1.6"/>
<line x1="1001.5" y1="667" x2="1001.5" y2="864" stroke="#66686a" stroke-width="2.2"/>
<line x1="1124.5" y1="667" x2="1124.5" y2="864" stroke="#9a9a9a" stroke-width="1.4"/>
<line x1="1185.9" y1="667" x2="1185.9" y2="864" stroke="#55585b" stroke-width="2.6"/>
<line x1="1308.9" y1="667" x2="1308.9" y2="864" stroke="#585a5d" stroke-width="2.4"/>
<line x1="1370.3" y1="667" x2="1370.3" y2="864" stroke="#585a5d" stroke-width="2.4"/>
<line x1="1493.3" y1="667" x2="1493.3" y2="864" stroke="#55585b" stroke-width="2.6"/>
<line x1="1554.7" y1="667" x2="1554.7" y2="864" stroke="#55585b" stroke-width="2.6"/>
<line x1="7" y1="717.7" x2="1616" y2="717.7" stroke="#505457" stroke-width="4.0"/>
<line x1="7" y1="766.3" x2="1616" y2="766.3" stroke="#505457" stroke-width="4.0"/>
<line x1="7" y1="817.4" x2="1616" y2="817.4" stroke="#505457" stroke-width="4.0"/>
<line x1="141.0" y1="667" x2="141.0" y2="864" stroke="#44474a" stroke-width="5.4"/>
<line x1="325.4" y1="667" x2="325.4" y2="864" stroke="#44474a" stroke-width="5.4"/>
<line x1="509.8" y1="667" x2="509.8" y2="864" stroke="#44474a" stroke-width="5.4"/>
<line x1="694.2" y1="667" x2="694.2" y2="864" stroke="#44474a" stroke-width="5.4"/>
<line x1="878.6" y1="667" x2="878.6" y2="864" stroke="#44474a" stroke-width="5.4"/>
<line x1="1063.0" y1="667" x2="1063.0" y2="864" stroke="#44474a" stroke-width="5.4"/>
<line x1="1247.4" y1="667" x2="1247.4" y2="864" stroke="#44474a" stroke-width="5.4"/>
<line x1="1431.8" y1="667" x2="1431.8" y2="864" stroke="#44474a" stroke-width="4.2"/>
<line x1="6.7" y1="667" x2="1617.4" y2="667" stroke="#44474a" stroke-width="5"/>
<line x1="6.7" y1="864" x2="1617.4" y2="864" stroke="#44474a" stroke-width="5.6"/>
<line x1="9.55" y1="664.5" x2="9.55" y2="866.8" stroke="#44474a" stroke-width="5.7"/>
<line x1="1614.9" y1="664.5" x2="1614.9" y2="866.8" stroke="#44474a" stroke-width="4.6"/>
<line x1="1432.3" y1="667" x2="1432.8" y2="862" stroke="#2e3134" stroke-width="2.0" stroke-dasharray="8.7 7.2"/>
<line x1="1617.8" y1="667" x2="1617.8" y2="865" stroke="#3c3f42" stroke-width="3.2" stroke-dasharray="10.7 5.5"/>
<text x="50.8" y="709.6" font-family='"DejaVu Sans","Liberation Sans",sans-serif' font-size="20" font-weight="normal" fill="#4c4f52" text-anchor="start" xml:space="preserve" textLength="52.8" lengthAdjust="spacingAndGlyphs" stroke="#4c4f52" stroke-width="0.9" stroke-linejoin="round">Type</text>
<text x="51.5" y="757.7" font-family='"DejaVu Sans","Liberation Sans",sans-serif' font-size="20" font-weight="normal" fill="#4c4f52" text-anchor="start" xml:space="preserve" textLength="49.3" lengthAdjust="spacingAndGlyphs" stroke="#4c4f52" stroke-width="0.9" stroke-linejoin="round">total</text>
<text x="38.5" y="809.3" font-family='"DejaVu Sans","Liberation Sans",sans-serif' font-size="20" font-weight="normal" fill="#4c4f52" text-anchor="start" xml:space="preserve" textLength="76.1" lengthAdjust="spacingAndGlyphs" stroke="#4c4f52" stroke-width="0.9" stroke-linejoin="round">Hct (%)</text>
<text x="16.6" y="857.1" font-family='"DejaVu Sans","Liberation Sans",sans-serif' font-size="20" font-weight="normal" fill="#4c4f52" text-anchor="start" xml:space="preserve" textLength="119.6" lengthAdjust="spacingAndGlyphs" stroke="#4c4f52" stroke-width="0.9" stroke-linejoin="round">Urine (ml.)</text>
</g>
</svg></body></html>
